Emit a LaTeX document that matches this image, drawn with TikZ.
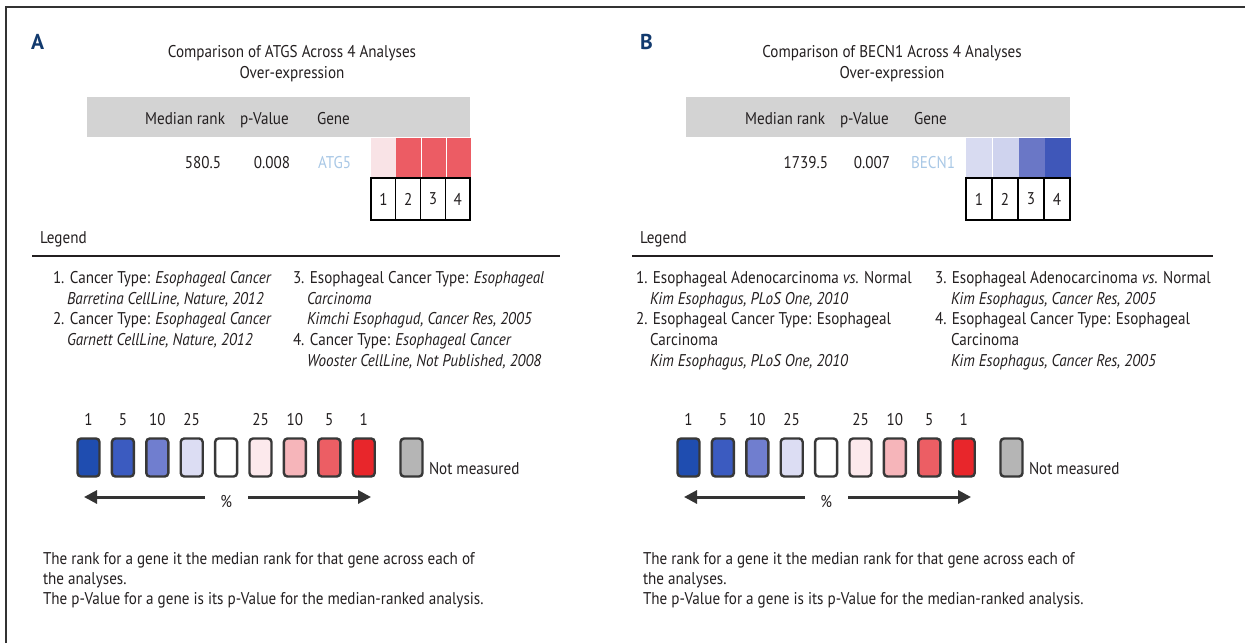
\documentclass[tikz,border=0pt]{standalone}
\usepackage{fontspec}
\setmainfont{PT Sans}[FakeStretch=0.89]
\newfontfamily\labfont{PT Sans}
\usetikzlibrary{arrows.meta}
\definecolor{navy}{HTML}{123A6E}
\definecolor{bandgray}{HTML}{D3D3D3}
\definecolor{genecol}{HTML}{A9C8E6}
\definecolor{redA}{HTML}{EC5C64}
\definecolor{pinkA}{HTML}{F9E3E6}
\definecolor{lavB}{HTML}{D8DBF1}
\definecolor{lavBB}{HTML}{CFD3EE}
\definecolor{midB}{HTML}{6A77C6}
\definecolor{blueB}{HTML}{3F57B9}
\definecolor{sA}{HTML}{1F4DB0}
\definecolor{sB}{HTML}{3B5BC0}
\definecolor{sC}{HTML}{707ECF}
\definecolor{sD}{HTML}{DCDDF3}
\definecolor{sE}{HTML}{FFFFFF}
\definecolor{sF}{HTML}{FCE9EC}
\definecolor{sG}{HTML}{F6B5BA}
\definecolor{sH}{HTML}{EC5E64}
\definecolor{sI}{HTML}{E8262B}
\definecolor{sJ}{HTML}{B5B5B5}
\definecolor{txt}{HTML}{231F20}
\tikzset{
  lbl/.style={inner sep=0pt, outer sep=0pt, text=txt, font=\fontsize{17}{20}\selectfont},
  plabel/.style={inner sep=0pt, text=navy, font=\labfont\bfseries\fontsize{21.5}{22}\selectfont, anchor=base west},
  cellbox/.style={inner sep=0pt, minimum width=24.75pt, minimum height=39pt, anchor=north west},
  numbox/.style={lbl, draw=black, line width=1.1pt, minimum width=24.75pt, minimum height=42pt, anchor=north west},
  sq/.style={inner sep=0pt, draw=black!78, line width=2.4pt, rounded corners=3.5pt, minimum width=22pt, minimum height=38pt},
  bigarrow/.style={line width=3pt, draw=black!80, -{Triangle[length=13pt,width=13pt]}},
}
\newcommand{\scalebar}[2]{%
  \begin{scope}[xshift=#2]
    \foreach \c [count=\i from 0] in {sA,sB,sC,sD,sE,sF,sG,sH,sI} {
      \node[sq, fill=\c] (#1sq\i) at (88.5+34.4*\i, 457.5) {};
    }
    \node[sq, fill=sJ] (#1sqn) at (411.5,457.5) {};
    \node[lbl, anchor=base] (#1n0) at (#1sq0.north |- 0,425) {1};
    \node[lbl, anchor=base] (#1n1) at (#1sq1.north |- 0,425) {5};
    \node[lbl, anchor=base] (#1n2) at (#1sq2.north |- 0,425) {10};
    \node[lbl, anchor=base] (#1n3) at (#1sq3.north |- 0,425) {25};
    \node[lbl, anchor=base] (#1n5) at (#1sq5.north |- 0,425) {25};
    \node[lbl, anchor=base] (#1n6) at (#1sq6.north |- 0,425) {10};
    \node[lbl, anchor=base] (#1n7) at (#1sq7.north |- 0,425) {5};
    \node[lbl, anchor=base] (#1n8) at (#1sq8.north |- 0,425) {1};
    \node[lbl, anchor=base west] (#1nm) at (429,474) {Not measured};
    \node[lbl, anchor=base] (#1pct) at (#1sq4.south |- 0,507) {\%};
    \coordinate (#1la) at (205,497);
    \coordinate (#1lb) at (84,497);
    \coordinate (#1ra) at (248,497);
    \coordinate (#1rb) at (371,497);
    \draw[bigarrow] (#1la) -- (#1lb);
    \draw[bigarrow] (#1ra) -- (#1rb);
    \node[lbl, anchor=base west] (#1f1) at (43,564) {The rank for a gene it the median rank for that gene across each of};
    \node[lbl, anchor=base west] (#1f2) at (43,584) {the analyses.};
    \node[lbl, anchor=base west] (#1f3) at (43,604) {The p-Value for a gene is its p-Value for the median-ranked analysis.};
  \end{scope}}
\begin{document}
\begin{tikzpicture}[x=1pt,y=-1pt]
\useasboundingbox (0,0) rectangle (1245,643);
\fill[white] (0,0) rectangle (1245,643);
\draw[line width=1.3pt, black!80] (6,643) -- (6,7) -- (1245,7);

% ---------------- Panel A ----------------
\node[plabel] (labA) at (31,49) {A};
\node[lbl, anchor=base] (tA1) at (292,57) {Comparison of ATGS Across 4 Analyses};
\node[lbl, anchor=base] (tA2) at (292,78) {Over-expression};
\node[fill=bandgray, inner sep=0pt, minimum width=383pt, minimum height=40pt, anchor=north west] (bandA) at (87,97) {};
\node[lbl, anchor=base east] (hA1) at (225,124) {Median rank};
\node[lbl, anchor=base west] (hA2) at (240,124) {p-Value};
\node[lbl, anchor=base west] (hA3) at (317,124) {Gene};
\node[lbl, anchor=base east] (vA1) at (221,168) {580.5};
\node[lbl, anchor=base east] (vA2) at (290,168) {0.008};
\node[lbl, anchor=base west, text=genecol] (vA3) at (318,168) {ATG5};
\node[cellbox, fill=pinkA] (cA1) at (371,138) {};
\node[cellbox, fill=redA] (cA2) at (cA1.north east) {};
\node[cellbox, fill=redA] (cA3) at (cA2.north east) {};
\node[cellbox, fill=redA] (cA4) at (cA3.north east) {};
\node[numbox] (nA1) at (371,178) {1};
\node[numbox] (nA2) at (nA1.north east) {2};
\node[numbox] (nA3) at (nA2.north east) {3};
\node[numbox] (nA4) at (nA3.north east) {4};
\draw[line width=2.6pt] (nA1.north west) -- (nA4.north east);
\draw[line width=2.6pt] (nA1.south west) -- (nA4.south east);
\node[lbl, anchor=base west] (legA) at (40,243) {Legend};
\coordinate (ruleA1) at (32,256);
\coordinate (ruleA2) at (560,256);
\draw[line width=1.2pt, txt] (ruleA1) -- (ruleA2);
\node[lbl, anchor=base west] (iA1) at (53,283) {1. Cancer Type: \textit{Esophageal Cancer}};
\node[lbl, anchor=base west] (iA1b) at (67,304) {\textit{Barretina CellLine, Nature, 2012}};
\node[lbl, anchor=base west] (iA2) at (53,324) {2. Cancer Type: \textit{Esophageal Cancer}};
\node[lbl, anchor=base west] (iA2b) at (67,345) {\textit{Garnett CellLine, Nature, 2012}};
\node[lbl, anchor=base west] (iA3) at (293,283) {3. Esophageal Cancer Type: \textit{Esophageal}};
\node[lbl, anchor=base west] (iA3b) at (307,304) {\textit{Carcinoma}};
\node[lbl, anchor=base west] (iA3c) at (307,324) {\textit{Kimchi Esophagud, Cancer Res, 2005}};
\node[lbl, anchor=base west] (iA4) at (293,345) {4. Cancer Type: \textit{Esophageal Cancer}};
\node[lbl, anchor=base west] (iA4b) at (307,366) {\textit{Wooster CellLine, Not Published, 2008}};
\scalebar{a}{0pt}

% ---------------- Panel B ----------------
\node[plabel] (labB) at (640,49) {B};
\node[lbl, anchor=base] (tB1) at (892,57) {Comparison of BECN1 Across 4 Analyses};
\node[lbl, anchor=base] (tB2) at (892,78) {Over-expression};
\node[fill=bandgray, inner sep=0pt, minimum width=384pt, minimum height=40pt, anchor=north west] (bandB) at (686,97) {};
\node[lbl, anchor=base east] (hB1) at (825,124) {Median rank};
\node[lbl, anchor=base west] (hB2) at (840,124) {p-Value};
\node[lbl, anchor=base west] (hB3) at (914,124) {Gene};
\node[lbl, anchor=base east] (vB1) at (828,168) {1739.5};
\node[lbl, anchor=base east] (vB2) at (890,168) {0.007};
\node[lbl, anchor=base west, text=genecol] (vB3) at (911,168) {BECN1};
\node[cellbox, fill=lavB, minimum width=26pt] (cB1) at (966,138) {};
\node[cellbox, fill=lavBB, minimum width=26pt] (cB2) at (cB1.north east) {};
\node[cellbox, fill=midB, minimum width=26pt] (cB3) at (cB2.north east) {};
\node[cellbox, fill=blueB, minimum width=26pt] (cB4) at (cB3.north east) {};
\node[numbox, minimum width=26pt] (nB1) at (966,178) {1};
\node[numbox, minimum width=26pt] (nB2) at (nB1.north east) {2};
\node[numbox, minimum width=26pt] (nB3) at (nB2.north east) {3};
\node[numbox, minimum width=26pt] (nB4) at (nB3.north east) {4};
\draw[line width=2.6pt] (nB1.north west) -- (nB4.north east);
\draw[line width=2.6pt] (nB1.south west) -- (nB4.south east);
\node[lbl, anchor=base west] (legB) at (640,243) {Legend};
\coordinate (ruleB1) at (632,256);
\coordinate (ruleB2) at (1213,256);
\draw[line width=1.2pt, txt] (ruleB1) -- (ruleB2);
\node[lbl, anchor=base west] (iB1) at (636,283) {1. Esophageal Adenocarcinoma \textit{vs.} Normal};
\node[lbl, anchor=base west] (iB1b) at (650,304) {\textit{Kim Esophagus, PLoS One, 2010}};
\node[lbl, anchor=base west] (iB2) at (636,324) {2. Esophageal Cancer Type: Esophageal};
\node[lbl, anchor=base west] (iB2b) at (650,345) {Carcinoma};
\node[lbl, anchor=base west] (iB2c) at (650,366) {\textit{Kim Esophagus, PLoS One, 2010}};
\node[lbl, anchor=base west] (iB3) at (935,283) {3. Esophageal Adenocarcinoma \textit{vs.} Normal};
\node[lbl, anchor=base west] (iB3b) at (951,304) {\textit{Kim Esophagus, Cancer Res, 2005}};
\node[lbl, anchor=base west] (iB4) at (935,324) {4. Esophageal Cancer Type: Esophageal};
\node[lbl, anchor=base west] (iB4b) at (951,345) {Carcinoma};
\node[lbl, anchor=base west] (iB4c) at (951,366) {\textit{Kim Esophagus, Cancer Res, 2005}};
\scalebar{b}{600pt}
\end{tikzpicture}
\end{document}
